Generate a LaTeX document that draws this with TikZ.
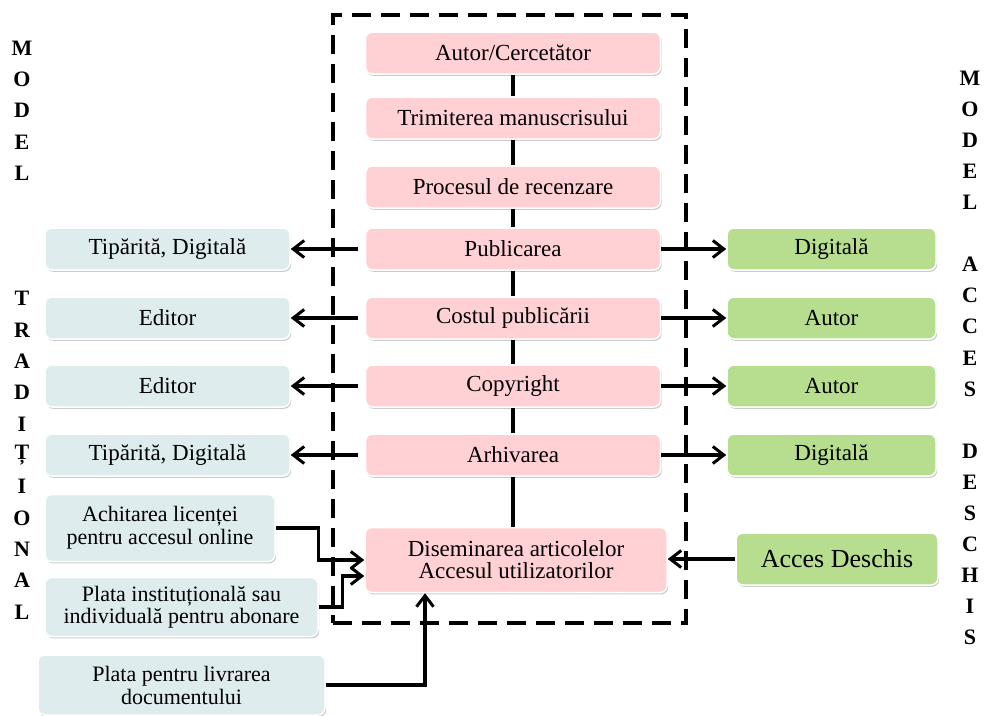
\documentclass[tikz,border=0pt]{standalone}
\usepackage{fontspec}
\setmainfont{Liberation Serif}
\usepackage{tikz}
\usetikzlibrary{arrows.meta}
\usetikzlibrary{shadows}
\definecolor{rozpal}{RGB}{255,209,212}
\definecolor{gripal}{RGB}{222,236,237}
\definecolor{verdepal}{RGB}{183,222,142}
\tikzset{
  cutie/.style={draw=white, line width=1.5pt, rounded corners=7pt, inner sep=0pt,
    align=center, font=\fontsize{23}{23}\selectfont,
    drop shadow={shadow xshift=1.2pt, shadow yshift=-1.8pt, fill=black!45, opacity=.45}},
  roz/.style={cutie, fill=rozpal, minimum width=295pt, minimum height=42pt},
  gri/.style={cutie, fill=gripal},
  verde/.style={cutie, fill=verdepal},
  litera/.style={font=\fontsize{22}{22}\selectfont\bfseries, inner sep=0pt},
  legatura/.style={line width=3.2pt},
  sageata/.style={line width=3.2pt, -{Straight Barb[length=11pt,width=17pt,line width=3pt]}},
}

\begin{document}
\begin{tikzpicture}[x=1pt, y=-1pt]
        \useasboundingbox (0,0) rectangle (990,715);
        % cadrul punctat
        \node[draw, line width=3.2pt, dash pattern=on 19pt off 10pt, minimum width=353pt, minimum height=608pt, inner sep=0pt] (cadru) at (509.5,319) {};
        % coloana centrala
        \node[roz] (autor) at (513,53) {Autor/Cercetător};
        \node[roz] (trim) at (513,118) {Trimiterea manuscrisului};
        \node[roz] (rec) at (513,187) {Procesul de recenzare};
        \node[roz] (pub) at (513,249) {Publicarea};
        \node[roz] (cost) at (513,318) {Costul publicării};
        \node[roz] (copy) at (513,386) {Copyright};
        \node[roz] (arh) at (513,455) {Arhivarea};
        \node[roz, minimum width=302pt, minimum height=65pt] (dis) at (516,560) {Diseminarea articolelor\\[-1pt]Accesul utilizatorilor};
        \foreach \a/\b in {autor/trim, trim/rec, rec/pub, pub/cost, cost/copy, copy/arh}
          \draw[legatura] (\a) -- (\b);
        \draw[legatura] (arh) -- (arh |- dis.north);
        % modelul traditional
        \node[gri, minimum width=245pt, minimum height=42pt] (trad1) at (167.5,249) {Tipărită, Digitală};
        \node[gri, minimum width=245pt, minimum height=42pt] (trad2) at (167.5,318) {Editor};
        \node[gri, minimum width=245pt, minimum height=42pt] (trad3) at (167.5,386) {Editor};
        \node[gri, minimum width=245pt, minimum height=42pt] (trad4) at (167.5,455) {Tipărită, Digitală};
        \node[gri, minimum width=230pt, minimum height=67pt, font=\fontsize{22}{23}\selectfont] (achit) at (160,528) {Achitarea licenței\\pentru accesul online};
        \node[gri, minimum width=273pt, minimum height=59pt, font=\fontsize{22}{22}\selectfont] (abon) at (181.5,607) {Plata instituțională sau\\individuală pentru abonare};
        \node[gri, minimum width=287pt, minimum height=60pt, font=\fontsize{22}{23}\selectfont] (livr) at (181.5,685) {Plata pentru livrarea\\documentului};
        % modelul acces deschis
        \node[verde, minimum width=209pt, minimum height=42pt] (desc1) at (831.5,249) {Digitală};
        \node[verde, minimum width=209pt, minimum height=42pt] (desc2) at (831.5,318) {Autor};
        \node[verde, minimum width=209pt, minimum height=42pt] (desc3) at (831.5,386) {Autor};
        \node[verde, minimum width=209pt, minimum height=42pt] (desc4) at (831.5,455) {Digitală};
        \node[verde, minimum width=202pt, minimum height=52pt, font=\fontsize{26}{26}\selectfont] (acces) at (837,559) {Acces Deschis};
        % sagetile
        \foreach \s/\t in {pub/trad1, cost/trad2, copy/trad3, arh/trad4}
          \draw[sageata] ([xshift=-7pt]\s.west) -- (\t);
        \foreach \s/\t in {pub/desc1, cost/desc2, copy/desc3, arh/desc4}
          \draw[sageata] (\s) -- (\t);
        \draw[sageata] (achit.east) -- ++(43,0) |- (dis.west);
        \draw[sageata] (abon.east) -- ++(24,0) |- ([yshift=-16pt]dis.west);
        \draw[sageata] (livr.east) -| ([xshift=-91pt]dis.south);
        \draw[sageata] (acces.west) -- (dis.east |- acces.west);
        % literele verticale
        \foreach \ch/\i in {M/0, O/1, D/2, E/3, L/4, T/8, R/9, A/10, D/11, I/12, Ț/13, I/14, O/15, N/16, A/17, L/18}
          \node[litera] (st\i) at (22, 48+31.33*\i) {\ch};
        \foreach \ch/\i in {M/0, O/1, D/2, E/3, L/4, A/6, C/7, C/8, E/9, S/10, D/12, E/13, S/14, C/15, H/16, I/17, S/18}
          \node[litera] (dr\i) at (970, 78+31.1*\i) {\ch};
\end{tikzpicture}
\end{document}
